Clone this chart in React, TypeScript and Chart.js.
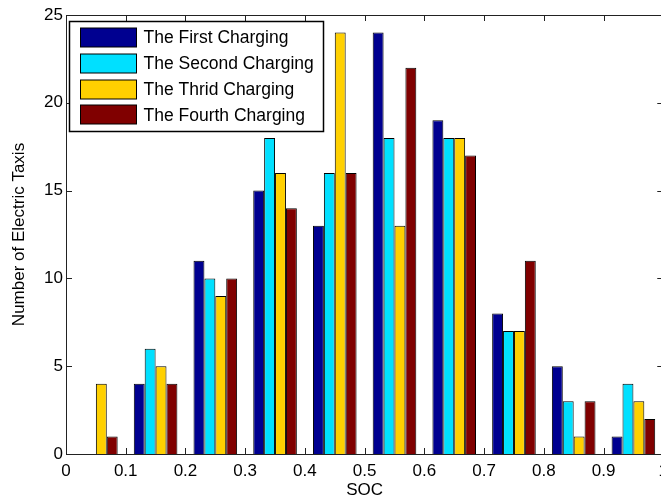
import React, { useEffect, useRef } from "react";
import { Chart, registerables } from "chart.js";

Chart.register(...registerables);

// ---- data ----
const binCenters = [0.05, 0.15, 0.25, 0.35, 0.45, 0.55, 0.65, 0.75, 0.85, 0.95];
const seriesNames = [
  "The First Charging",
  "The Second Charging",
  "The Thrid Charging",
  "The Fourth Charging",
];
const firstCharging = [0, 4, 11, 15, 13, 24, 19, 8, 5, 1];
const secondCharging = [0, 6, 10, 18, 16, 18, 18, 7, 3, 4];
const thirdCharging = [4, 5, 9, 16, 24, 13, 18, 7, 1, 3];
const fourthCharging = [1, 4, 10, 14, 16, 22, 17, 11, 3, 2];
const seriesColors = ["#000090", "#00E0FF", "#FFD000", "#800000"];
const xTickValues = [0, 0.1, 0.2, 0.3, 0.4, 0.5, 0.6, 0.7, 0.8, 0.9, 1];
const yTickValues = [0, 5, 10, 15, 20, 25];
const xTitle = "SOC";
const yTitle = "Number of Electric Taxis";

const FONT = "'Liberation Sans', Arial, sans-serif";

const boxPlugin = {
  id: "matlabBox",
  afterDatasetsDraw(chart: any) {
    const { ctx, chartArea, scales } = chart;
    const { left, right, top, bottom } = chartArea;
    const xs = scales.x;
    const ys = scales.y;
    ctx.save();
    ctx.strokeStyle = "#222";
    ctx.lineWidth = 1;
    ctx.beginPath();
    ctx.rect(Math.round(left) + 0.5, Math.round(top) + 0.5, Math.round(right - left), Math.round(bottom - top));
    ctx.stroke();
    const tl = 6;
    ctx.beginPath();
    xTickValues.forEach((v) => {
      const px = Math.round(xs.getPixelForValue(v)) + 0.5;
      ctx.moveTo(px, bottom);
      ctx.lineTo(px, bottom - tl);
      ctx.moveTo(px, top);
      ctx.lineTo(px, top + tl);
    });
    yTickValues.forEach((v) => {
      const py = Math.round(ys.getPixelForValue(v)) + 0.5;
      ctx.moveTo(left, py);
      ctx.lineTo(left + tl, py);
      ctx.moveTo(right, py);
      ctx.lineTo(right - tl, py);
    });
    ctx.stroke();
    ctx.restore();
  },
};

const legendPlugin = {
  id: "matlabLegend",
  afterDraw(chart: any) {
    const { ctx, chartArea } = chart;
    const bx = Math.round(chartArea.left) + 3.5;
    const by = Math.round(chartArea.top) + 6.5;
    const bw = 254;
    const bh = 110;
    ctx.save();
    ctx.fillStyle = "#fff";
    ctx.fillRect(bx, by, bw, bh);
    ctx.strokeStyle = "#000";
    ctx.lineWidth = 1.5;
    ctx.strokeRect(bx, by, bw, bh);
    ctx.font = `17.5px ${FONT}`;
    ctx.textBaseline = "middle";
    ctx.textAlign = "left";
    chart.data.datasets.forEach((ds: any, i: number) => {
      const cy = by + 16 + i * 25.8;
      const sx = bx + 11;
      ctx.fillStyle = ds.backgroundColor;
      ctx.fillRect(sx, Math.round(cy - 9.5), 56, 19);
      ctx.lineWidth = 1;
      ctx.strokeStyle = "#000";
      ctx.strokeRect(sx, Math.round(cy - 9.5), 56, 19);
      ctx.fillStyle = "#000";
      ctx.fillText(ds.label, sx + 63, cy + 1);
    });
    ctx.restore();
  },
};

export default function App() {
  const canvasRef = useRef<HTMLCanvasElement | null>(null);

  useEffect(() => {
    if (!canvasRef.current) return;
    const seriesValues = [firstCharging, secondCharging, thirdCharging, fourthCharging];
    const datasets = seriesValues.map((vals, i) => ({
      label: seriesNames[i],
      data: binCenters.map((c, j) => ({ x: c, y: vals[j] })),
      backgroundColor: seriesColors[i],
      borderColor: "#000",
      borderWidth: 1,
      borderSkipped: "bottom" as const,
      categoryPercentage: 0.73,
      barPercentage: 1,
    }));

    const chart = new Chart(canvasRef.current, {
      type: "bar",
      data: { datasets },
      options: {
        animation: false,
        responsive: false,
        devicePixelRatio: 1,
        layout: { padding: { top: 15, right: 5, left: 0, bottom: 0 } },
        plugins: {
          legend: { display: false },
          tooltip: { enabled: false },
        },
        scales: {
          x: {
            type: "linear",
            min: 0,
            max: 1,
            offset: false,
            grid: { display: false, drawTicks: false, offset: false },
            border: { display: false },
            afterFit: (s: any) => {
              s.height = 45;
            },
            afterBuildTicks: (s: any) => {
              s.ticks = xTickValues.map((v) => ({ value: v }));
            },
            ticks: {
              padding: 7,
              color: "#000",
              font: { family: FONT, size: 17 },
              maxRotation: 0,
              autoSkip: false,
              callback: (v: any) => String(Number(Number(v).toFixed(1))),
            },
            title: {
              display: true,
              text: xTitle,
              color: "#000",
              font: { family: FONT, size: 17 },
              padding: { top: 0, bottom: -2 },
            },
          },
          y: {
            min: 0,
            max: 25,
            grid: { display: false, drawTicks: false },
            border: { display: false },
            afterFit: (s: any) => {
              s.width = 66;
            },
            afterBuildTicks: (s: any) => {
              s.ticks = yTickValues.map((v) => ({ value: v }));
            },
            ticks: {
              padding: 3,
              color: "#000",
              font: { family: FONT, size: 17 },
            },
            title: {
              display: true,
              text: yTitle,
              color: "#000",
              font: { family: FONT, size: 17 },
              padding: { top: 9, bottom: 0 },
            },
          },
        },
      },
      plugins: [boxPlugin, legendPlugin],
    } as any);

    return () => chart.destroy();
  }, []);

  return (
    <div
      style={{
        position: "fixed",
        left: 0,
        top: 0,
        width: 661,
        height: 499,
        overflow: "hidden",
        background: "#fff",
      }}
    >
      <canvas ref={canvasRef} width={675} height={499} style={{ width: 675, height: 499, display: "block" }} />
    </div>
  );
}
